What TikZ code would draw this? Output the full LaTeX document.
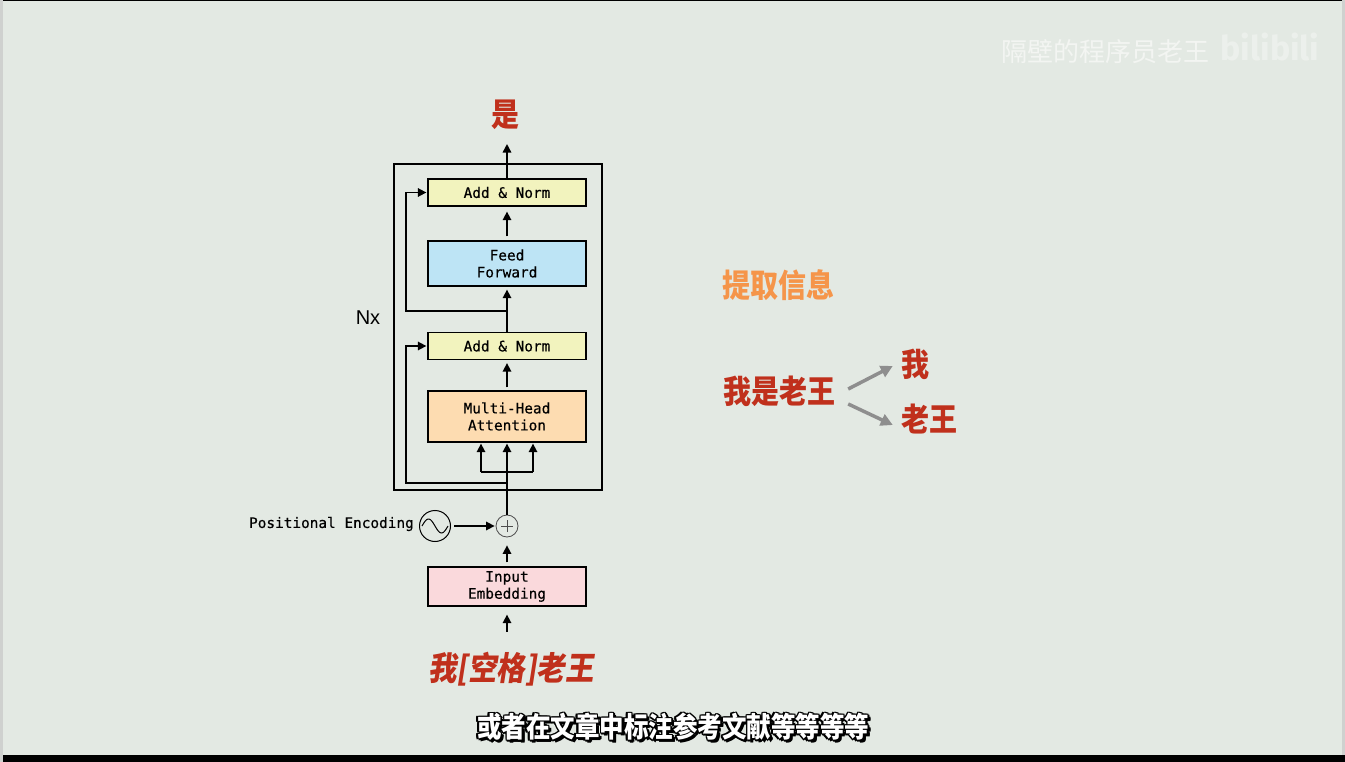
\documentclass[tikz,border=0pt]{standalone}
\usepackage{fontspec}
\usepackage{graphicx}
\usetikzlibrary{arrows.meta}
\setmainfont{Liberation Sans}
\setmonofont{DejaVu Sans Mono}[FakeBold=0.4]
\newfontfamily\cjk{Noto Sans CJK SC}
\newfontfamily\cjkit{Noto Sans CJK SC}[FakeSlant=0.18]
\newfontfamily\wmfont{Fira Sans}
\definecolor{bg}{HTML}{E3E9E3}
\definecolor{edgegray}{HTML}{CFD1CF}
\definecolor{yel}{HTML}{F2F3BE}
\definecolor{ffblue}{HTML}{BDE4F5}
\definecolor{peach}{HTML}{FDDCB1}
\definecolor{pinkfill}{HTML}{FAD9DC}
\definecolor{redtext}{HTML}{C0301C}
\definecolor{orangetext}{HTML}{F5954A}
\definecolor{wm}{HTML}{F3F5F2}
\definecolor{garrow}{HTML}{8E8E8E}
\newcommand\tallcjk[1]{\scalebox{1}[1.15]{#1}}
\tikzset{
  blk/.style={draw=black, line width=1.3pt, minimum width=158pt, inner sep=0pt,
    font=\ttfamily\fontsize{14.4}{17}\selectfont, align=center},
  arr/.style={line width=1.6pt, -{Triangle[length=8.5pt,width=8.5pt]}},
  ln/.style={line width=1.6pt},
  redcjk/.style={font=\cjk\bfseries\fontsize{28}{28}\selectfont, text=redtext, inner sep=0pt},
  garr/.style={line width=3.5pt, draw=garrow, -{Triangle[length=12pt,width=12pt]}},
  subtxt/.style={font=\cjk\bfseries\fontsize{24.5}{24.5}\selectfont, inner sep=0pt}
}
\begin{document}
\begin{tikzpicture}[x=1pt,y=-1pt]
\fill[bg] (0,0) rectangle (1345,762);
\useasboundingbox (0,0) rectangle (1345,762);
\fill[black] (0,0) rectangle (1345,1.2);
\fill[edgegray] (0,0) rectangle (2.5,762);
\fill[edgegray] (1342,0) rectangle (1345,762);
\fill[black] (2.5,755) rectangle (1345,762);

% watermark
\node[font=\cjk\fontsize{26}{26}\selectfont, text=wm, inner sep=0pt] (wmtext) at (1105,52) {隔壁的程序员老王};
\node[font=\wmfont\bfseries\fontsize{34}{34}\selectfont, text=wm, text opacity=0.6, inner sep=0pt] (wmlogo) at (1270,47) {bilibili};

% encoder
\node[draw=black, line width=1.3pt, minimum width=208pt, minimum height=326pt, inner sep=0pt] (enc) at (498,327) {};
\node[blk, fill=yel, minimum height=27pt] (an2) at (507,192.5) {Add \& Norm};
\node[blk, fill=ffblue, minimum height=45pt] (ff) at (507,263.5) {Feed\\Forward};
\node[blk, fill=yel, minimum height=27pt] (an1) at (507,346) {Add \& Norm};
\node[blk, fill=peach, minimum height=51pt] (mha) at (507,416.5) {Multi-Head\\Attention};
\node[blk, fill=pinkfill, minimum height=39pt] (emb) at (507,586.5) {Input\\Embedding};
\node[draw=black!70, line width=0.8pt, circle, minimum size=22pt, inner sep=0pt] (plus) at (507,526) {};
\draw[black!70, line width=0.8pt] ([xshift=-6pt]plus.center) -- ([xshift=6pt]plus.center);
\draw[black!70, line width=0.8pt] ([yshift=-6pt]plus.center) -- ([yshift=6pt]plus.center);
\node[draw=black, line width=1pt, circle, minimum size=31pt, inner sep=0pt] (pe) at (435,526) {};
\draw[line width=1pt] plot[domain=-1:1, samples=50] ({435+13*\x},{526+7*sin(\x*180)});
\node[anchor=east, inner sep=0pt, font=\ttfamily\fontsize{14.4}{17}\selectfont] (pelabel) at (414,524) {Positional Encoding};
\node[inner sep=0pt, font=\fontsize{20}{20}\selectfont] (nx) at (368,318) {Nx};

\node[redcjk] (out) at (505,115) {\tallcjk{是}};
\node[redcjk, font=\cjkit\bfseries\fontsize{28.5}{28.5}\selectfont] (inp) at (511,669) {\tallcjk{我[空格]老王}};

\coordinate (br) at (507,472);
\coordinate (brl) at (481,472);
\coordinate (brr) at (533,472);
\coordinate (res1) at (507,483);
\coordinate (res1l) at (406,483);
\coordinate (res1t) at (406,346);
\coordinate (res2) at (507,311);
\coordinate (res2l) at (406,311);
\coordinate (res2t) at (406,192.5);

\draw[arr, shorten <=20pt, shorten >=8pt] (emb.south |- inp.north) -- (emb.south);
\draw[arr, shorten <=4pt, shorten >=8pt] (emb.north) -- (plus.south);
\draw[arr, shorten <=3pt, shorten >=1pt] (pe.east) -- (plus.west);
\draw[ln] (plus.north) -- (br);
\draw[ln] (brl) -- (brr);
\draw[arr, shorten >=1pt] (brl) -- (brl |- mha.south);
\draw[arr, shorten >=1pt] (br) -- (mha.south);
\draw[arr, shorten >=1pt] (brr) -- (brr |- mha.south);
\draw[arr, shorten >=1pt] (res1) -- (res1l) -- (res1t) -- (an1.west);
\draw[arr, shorten <=3pt, shorten >=3pt] (mha.north) -- (an1.south);
\draw[arr, shorten >=3pt] (an1.north) -- (ff.south);
\draw[arr, shorten >=1pt] (res2) -- (res2l) -- (res2t) -- (an2.west);
\draw[arr, shorten <=4pt, shorten >=5pt] (ff.north) -- (an2.south);
\draw[arr, shorten >=14pt] (an2.north) -- (an2.north |- out.south);

% right side
\node[redcjk, text=orangetext] (tq) at (778,285) {\tallcjk{提取信息}};
\node[redcjk] (src) at (779,391) {\tallcjk{我是老王}};
\node[redcjk] (w1) at (915,364) {\tallcjk{我}};
\node[redcjk] (w2) at (929,419) {\tallcjk{老王}};
\draw[garr] ([xshift=13pt,yshift=2pt]src.east) -- ([xshift=-8pt,yshift=-2pt]w1.west);
\draw[garr] ([xshift=13pt,yshift=-13pt]src.east) -- ([xshift=-8pt,yshift=-6pt]w2.west);

% subtitle (outlined text)
\foreach \dx/\dy [count=\k] in {-1.5/0,1.5/0,0/-1.5,0/1.5,-1.1/-1.1,1.1/1.1,1.1/-1.1,-1.1/1.1,2.5/2.5,3/2}
  \node[subtxt, text=black] (subsh\k) at (673+\dx,727+\dy) {\tallcjk{或者在文章中标注参考文献等等等等}};
\node[subtxt, text=white] (sub) at (673,727) {\tallcjk{或者在文章中标注参考文献等等等等}};
\end{tikzpicture}
\end{document}
